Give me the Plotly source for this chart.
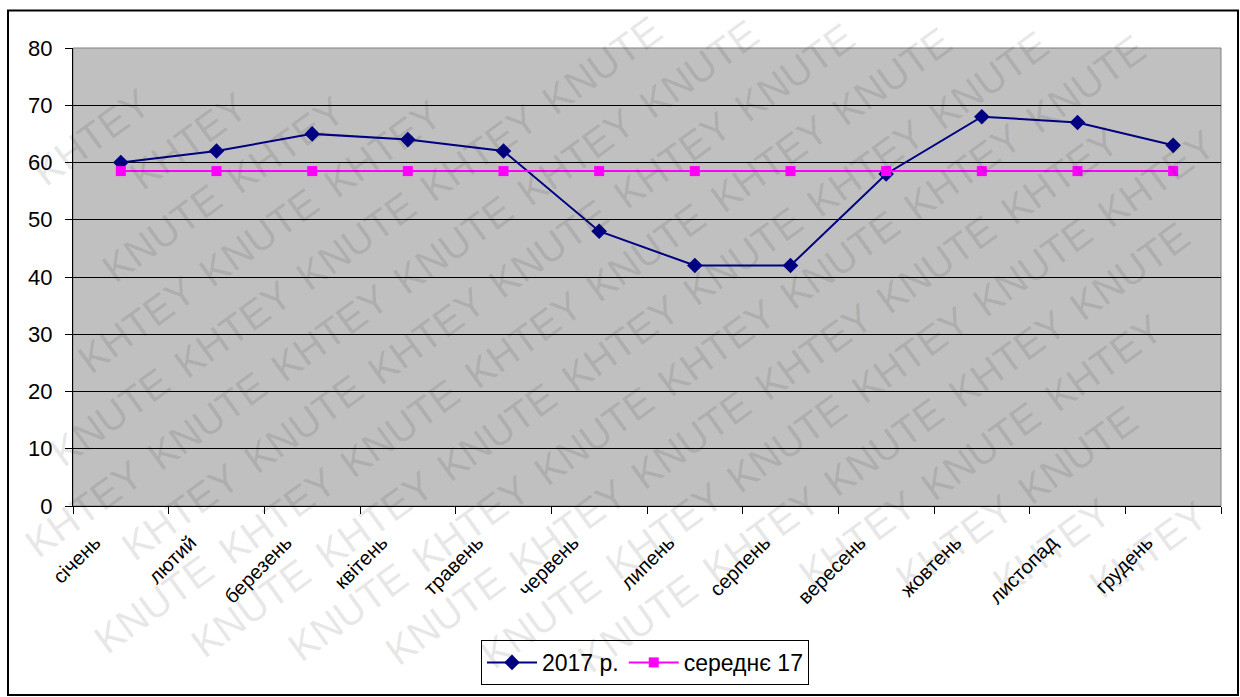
import math
import plotly.graph_objects as go

# Monthly values
months = ["січень", "лютий", "березень", "квітень", "травень", "червень",
          "липень", "серпень", "вересень", "жовтень", "листопад", "грудень"]
values_2017 = [60, 62, 65, 64, 62, 48, 42, 42, 58, 68, 67, 63]
average_17 = [58.5, 58.5, 58.5, 58.5, 58.5, 58.5, 58.5, 58.5, 58.5, 58.5, 58.5, 58.5]
y_ticks = [0, 10, 20, 30, 40, 50, 60, 70, 80]

W, H = 1240, 697
ML, MR, MT, MB = 73, 19, 48, 184
PW, PH = W - ML - MR, H - MT - MB

FONT = "Arial, Liberation Sans, sans-serif"


def px_to_paper(px, py):
    return (px - ML) / PW, (H - MB - py) / PH


fig = go.Figure()

fig.add_trace(go.Scatter(
    x=months, y=values_2017, name="2017 р.", mode="lines+markers",
    line=dict(color="#000080", width=2),
    marker=dict(symbol="diamond", size=12, color="#000080"),
))
fig.add_trace(go.Scatter(
    x=months, y=average_17, name="середнє 17", mode="lines+markers",
    line=dict(color="#FF00FF", width=2),
    marker=dict(symbol="square", size=10, color="#FF00FF"),
))

# Diagonal watermark, laid out word by word; words that would cross the
# page edge are left out
WM_WORDS = ["KHTEY", "KNUTE"]
WM_SIZE = 40
angle = math.radians(36)
ux, uy = math.cos(angle), -math.sin(angle)      # along a row
nx, ny = math.sin(angle), math.cos(angle)       # between rows
word_len = 3.4 * WM_SIZE
word_h = 0.72 * WM_SIZE
pitch = word_len + 0.4 * WM_SIZE
row_gap = 60
box_len = 3.6 * WM_SIZE
box_h = 1.0 * WM_SIZE
half_w = (box_len * ux + box_h * nx) / 2
half_h = (box_len * -uy + box_h * ny) / 2
annotations = []
for k in range(-14, 15):
    for j in range(-8, 9):
        along = j * pitch + k * pitch * 0.5
        cx = W / 2 + k * row_gap * nx + along * ux
        cy = H / 2 + k * row_gap * ny + along * uy
        if cx - half_w < 3 or cx + half_w > W - 3 or cy - half_h < 3 or cy + half_h > H - 3:
            continue
        x, y = px_to_paper(cx, cy)
        annotations.append(dict(
            x=x, y=y, xref="paper", yref="paper", text=WM_WORDS[j % 2],
            showarrow=False, textangle=-36, xanchor="center", yanchor="middle",
            font=dict(family=FONT, size=WM_SIZE, color="rgba(0,0,0,0.11)"),
        ))

# Outer chart frame and plot-area border
fx0, fy0 = px_to_paper(8, 10)
fx1, fy1 = px_to_paper(1238, 705)
shapes = [
    dict(type="rect", xref="paper", yref="paper", x0=fx0, y0=fy1, x1=fx1, y1=fy0,
         line=dict(color="black", width=2), fillcolor="rgba(0,0,0,0)", layer="above"),
    dict(type="rect", xref="paper", yref="paper", x0=0, y0=0, x1=1, y1=1,
         line=dict(color="#808080", width=1), fillcolor="rgba(0,0,0,0)", layer="below"),
]

lx, ly = px_to_paper(645, 649)

fig.update_layout(
    width=W, height=H,
    margin=dict(l=ML, r=MR, t=MT, b=MB),
    paper_bgcolor="white", plot_bgcolor="#C0C0C0",
    font=dict(family=FONT, color="black"),
    showlegend=True,
    legend=dict(orientation="h", x=lx, y=ly, xanchor="center", yanchor="top",
                bgcolor="white", bordercolor="black", borderwidth=1,
                font=dict(family=FONT, size=23, color="black"),
                itemwidth=50, tracegroupgap=0),
    xaxis=dict(type="category", range=[-0.5, 11.5], tickson="boundaries",
               ticks="outside", ticklen=7, tickcolor="black", tickwidth=1,
               showline=True, linecolor="black", linewidth=1, showgrid=False,
               tickangle=-45, ticklabelshift=-26, ticklabelstandoff=16,
               tickfont=dict(family=FONT, size=20, color="black")),
    yaxis=dict(range=[0, 80], tickvals=y_ticks, ticks="outside", ticklen=7,
               tickcolor="black", tickwidth=1, showline=True, linecolor="black",
               linewidth=1, showgrid=True, gridcolor="black", gridwidth=1,
               zeroline=False, ticklabelstandoff=8,
               tickfont=dict(family=FONT, size=22, color="black")),
    annotations=annotations,
    shapes=shapes,
)

fig.write_html("out.html")
